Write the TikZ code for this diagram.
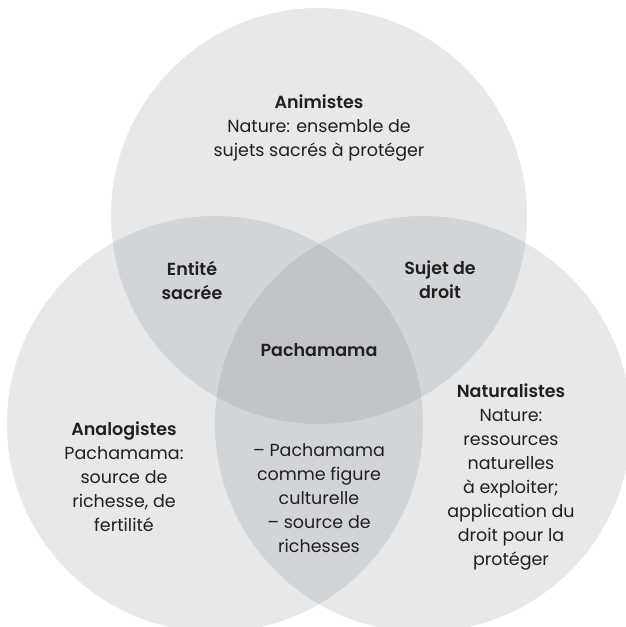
\documentclass[tikz,border=0pt]{standalone}
\usepackage{fontspec}
\setmainfont{Poppins}[BoldFont={Poppins SemiBold}]
\usepackage{tikz}
\usetikzlibrary{positioning}
\usepackage{xcolor}
\definecolor{venngray}{HTML}{6D7680}
\definecolor{textdark}{HTML}{231F20}

\tikzset{
  venn/.style={fill=venngray,fill opacity=0.17,draw=none},
  vtext/.style={text=textdark,align=center,font=\fontsize{17.5}{24}\selectfont},
  vtitle/.style={vtext,font=\fontsize{17.5}{24}\selectfont\bfseries}
}

\begin{document}
\begin{tikzpicture}[x=1pt,y=-1pt]
    \useasboundingbox (0,0) rectangle (625,627);

    % circles
    \fill[venn] (319,216) circle (208pt);
    \fill[venn] (215,424) circle (208pt);
    \fill[venn] (423,424) circle (208pt);

    % Animistes
    \node[vtext] (animistes) at (319,128) {\textbf{Animistes}\\Nature: ensemble de\\sujets sacrés à protéger};

    % overlaps
    \node[vtitle] (entite) at (192,280) {Entité\\sacrée};
    \node[vtitle] (sujet) at (440,280) {Sujet de\\droit};
    \node[vtitle] (pacha) at (319,350) {Pachamama};

    % Analogistes
    \node[vtext] (analogistes) at (124,477) {\textbf{Analogistes}\\Pachamama:\\source de\\richesse, de\\fertilité};

    % bottom overlap
    \node[vtext] (figure) at (319,498) {– Pachamama\\comme figure\\culturelle\\– source de\\richesses};

    % Naturalistes
    \node[vtext] (naturalistes) at (511,477) {\textbf{Naturalistes}\\Nature:\\ressources\\naturelles\\à exploiter;\\application du\\droit pour la\\protéger};
  \end{tikzpicture}
\end{document}
